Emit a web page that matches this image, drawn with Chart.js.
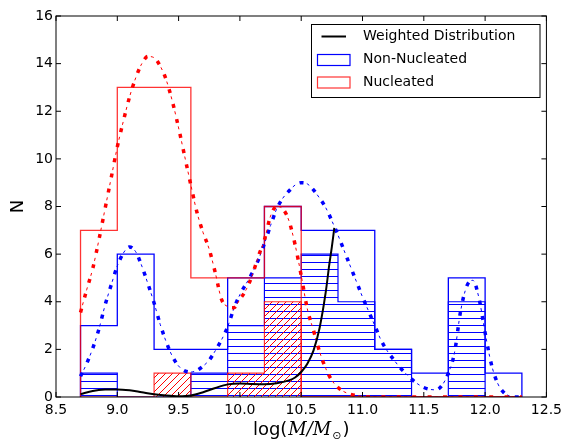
<!DOCTYPE html>
<html>
<head>
<meta charset="utf-8">
<script src="https://cdn.jsdelivr.net/npm/chart.js@4/dist/chart.umd.min.js"></script>
<style>
html,body{margin:0;padding:0;background:#fff;}
#wrap{position:relative;width:567px;height:439px;}
canvas{display:block;}
</style>
</head>
<body>
<div id="wrap"><canvas id="c" width="567" height="439"></canvas></div>
<script>
// ---- data ----
const binEdges = [8.7, 9.0, 9.3, 9.6, 9.9, 10.2, 10.5, 10.8, 11.1, 11.4, 11.7, 12.0, 12.3];
const nonNucleatedCounts = [3, 6, 2, 2, 5, 8, 7, 7, 2, 1, 5, 1];
const nucleatedCounts = [7, 13, 13, 5, 5, 8, 0, 0, 0, 0, 0, 0];
const nonNucleatedHatchCounts = [1, 0, 0, 1, 3, 5, 6, 4, 2, 0, 4, 0];
const nucleatedHatchCounts = [0, 0, 1, 0, 1, 4, 0, 0, 0, 0, 0, 0];

const kdeGrid = [8.70, 8.75, 8.80, 8.85, 8.90, 8.95, 9.00, 9.05, 9.10, 9.15, 9.20, 9.25, 9.30, 9.35, 9.40, 9.45, 9.50, 9.55, 9.60, 9.65, 9.70, 9.75, 9.80, 9.85, 9.90, 9.95, 10.00, 10.05, 10.10, 10.15, 10.20, 10.25, 10.30, 10.35, 10.40, 10.45, 10.50, 10.55, 10.60, 10.65, 10.70, 10.75, 10.80, 10.85, 10.90, 10.95, 11.00, 11.05, 11.10, 11.15, 11.20, 11.25, 11.30, 11.35, 11.40, 11.45, 11.50, 11.55, 11.60, 11.65, 11.70, 11.75, 11.80, 11.85, 11.90, 11.95, 12.00, 12.05, 12.10, 12.15, 12.20, 12.25, 12.30];
const nucleatedKde = [3.55, 4.5, 5.4, 6.6, 7.9, 9.2, 10.5, 11.6, 12.6, 13.4, 14.0, 14.3, 14.25, 13.9, 13.3, 12.4, 11.3, 10.1, 8.9, 7.75, 6.9, 6.2, 5.2, 4.1, 3.8, 3.75, 4.1, 4.5, 5.1, 5.9, 6.6, 7.6, 8.0, 7.9, 7.4, 6.4, 5.1, 3.7, 2.8, 1.9, 1.2, 0.7, 0.4, 0.22, 0.12, 0.06, 0.03, 0, 0, 0, 0, 0, 0, 0, 0, 0, 0, 0, 0, 0, 0, 0, 0, 0, 0, 0, 0, 0, 0, 0, 0, 0, 0];
const nonNucleatedKde = [0.87, 1.4, 2.05, 2.85, 3.85, 4.7, 5.5, 6.05, 6.3, 6.1, 5.5, 4.75, 3.95, 3.05, 2.3, 1.7, 1.3, 1.1, 1.05, 1.12, 1.3, 1.55, 1.95, 2.4, 2.95, 3.7, 4.3, 4.75, 5.2, 5.75, 6.45, 7.2, 7.9, 8.35, 8.65, 8.9, 9.0, 8.95, 8.7, 8.35, 7.95, 7.4, 6.8, 6.15, 5.5, 4.85, 4.2, 3.6, 3.0, 2.4, 1.95, 1.6, 1.27, 1.0, 0.75, 0.55, 0.4, 0.32, 0.3, 0.5, 1.0, 1.85, 3.6, 4.65, 4.9, 4.15, 2.7, 1.4, 0.6, 0.2, 0.04, 0, 0];

const weightedX = [8.70, 8.80, 8.90, 9.00, 9.10, 9.20, 9.30, 9.40, 9.50, 9.60, 9.70, 9.80, 9.90, 10.00, 10.10, 10.20, 10.30, 10.40, 10.45, 10.50, 10.55, 10.60, 10.65, 10.70, 10.73, 10.75, 10.77];
const weightedY = [0.12, 0.25, 0.31, 0.32, 0.28, 0.2, 0.12, 0.06, 0.03, 0.06, 0.2, 0.38, 0.53, 0.57, 0.55, 0.54, 0.58, 0.7, 0.82, 1.05, 1.4, 1.95, 2.9, 4.4, 5.6, 6.3, 7.1];

const xTicks = [8.5, 9.0, 9.5, 10.0, 10.5, 11.0, 11.5, 12.0, 12.5];
const yTicks = [0, 2, 4, 6, 8, 10, 12, 14, 16];
const legendLabels = ['Weighted Distribution', 'Non-Nucleated', 'Nucleated'];
const xTitleParts = ['log(', 'M/M', '\u2299', ')'];
const yTitle = 'N';

// ---- helpers ----
function stepPoints(counts) {
  const pts = [{x: binEdges[0], y: 0}];
  counts.forEach((c, i) => pts.push({x: binEdges[i], y: c}));
  pts.push({x: binEdges[binEdges.length - 1], y: 0});
  return pts;
}
function pairs(xs, ys) { return xs.map((x, i) => ({x: x, y: ys[i]})); }

function hPattern(color) {
  const p = document.createElement('canvas'); p.width = 7; p.height = 7;
  const g = p.getContext('2d'); g.fillStyle = color; g.fillRect(0, 3, 7, 1);
  return g.createPattern(p, 'repeat');
}
function dPattern(color) {
  const s = 7;
  const p = document.createElement('canvas'); p.width = s; p.height = s;
  const g = p.getContext('2d');
  g.fillStyle = color;
  for (let i = 0; i < s; i++) g.fillRect(i, s - 1 - i, 1, 1);
  return g.createPattern(p, 'repeat');
}

const BLUE = '#0000ff';
const RED = 'rgba(255,0,0,0.8)';

function dotted(data, color) {
  return [
    {data: data, borderColor: color, borderWidth: 3.5, borderDash: [4, 11.4], pointRadius: 0, fill: false, cubicInterpolationMode: 'monotone'},
    {data: data, borderColor: color, borderWidth: 1, borderDash: [3, 12.4], borderDashOffset: 7.9, pointRadius: 0, fill: false, cubicInterpolationMode: 'monotone'}
  ];
}

const datasets = [
  {data: pairs(weightedX, weightedY), borderColor: '#000', borderWidth: 2, pointRadius: 0, fill: false, cubicInterpolationMode: 'monotone'},
  ...dotted(pairs(kdeGrid, nucleatedKde), '#ff0000'),
  ...dotted(pairs(kdeGrid, nonNucleatedKde), '#0000ff'),
  {data: stepPoints(nucleatedCounts), stepped: true, borderColor: RED, borderWidth: 1.3, pointRadius: 0, fill: false},
  {data: stepPoints(nonNucleatedCounts), stepped: true, borderColor: BLUE, borderWidth: 1.3, pointRadius: 0, fill: false},
  {data: stepPoints(nucleatedHatchCounts), stepped: true, borderColor: RED, borderWidth: 1.2, pointRadius: 0, fill: 'origin', backgroundColor: dPattern('#ff0000')},
  {data: stepPoints(nonNucleatedHatchCounts), stepped: true, borderColor: BLUE, borderWidth: 1.2, pointRadius: 0, fill: 'origin', backgroundColor: hPattern('#0000ff')}
];

const frame = {
  id: 'frame',
  afterDatasetsDraw(chart) {
    const {ctx, chartArea: a, scales: {x, y}} = chart;
    ctx.save();
    ctx.strokeStyle = '#000'; ctx.lineWidth = 1;
    ctx.strokeRect(a.left, a.top, a.right - a.left, a.bottom - a.top);
    ctx.beginPath();
    xTicks.forEach(v => {
      const px = x.getPixelForValue(v);
      ctx.moveTo(px, a.bottom); ctx.lineTo(px, a.bottom - 5);
      ctx.moveTo(px, a.top); ctx.lineTo(px, a.top + 5);
    });
    yTicks.forEach(v => {
      const py = y.getPixelForValue(v);
      ctx.moveTo(a.left, py); ctx.lineTo(a.left + 5, py);
      ctx.moveTo(a.right, py); ctx.lineTo(a.right - 5, py);
    });
    ctx.stroke();
    ctx.restore();
  },
  afterDraw(chart) {
    const {ctx, chartArea: a} = chart;
    ctx.save();
    // legend
    ctx.fillStyle = '#fff'; ctx.fillRect(311.5, 24.5, 228.5, 73);
    ctx.strokeStyle = '#000'; ctx.lineWidth = 1; ctx.strokeRect(311.5, 24.5, 228.5, 73);
    ctx.strokeStyle = '#000'; ctx.lineWidth = 2;
    ctx.beginPath(); ctx.moveTo(321.5, 36.5); ctx.lineTo(346, 36.5); ctx.stroke();
    ctx.lineWidth = 1.2;
    ctx.strokeStyle = BLUE; ctx.strokeRect(317.5, 54.5, 32.5, 11);
    ctx.strokeStyle = RED; ctx.strokeRect(317.5, 77, 32.5, 11);
    ctx.fillStyle = '#000';
    ctx.font = '14px "DejaVu Sans"'; ctx.textBaseline = 'middle'; ctx.textAlign = 'left';
    ctx.fillText(legendLabels[0], 363, 36.8);
    ctx.fillText(legendLabels[1], 363, 59.6);
    ctx.fillText(legendLabels[2], 363, 82.2);
    // x title with math italics
    const fonts = ['18px "DejaVu Sans"', 'italic 18px "DejaVu Serif"', '11px "DejaVu Sans"', '18px "DejaVu Sans"'];
    const dys = [0, 0, 4, 0];
    const gaps = [1, 1, 1, 0];
    let widths = xTitleParts.map((t, i) => { ctx.font = fonts[i]; return ctx.measureText(t).width + gaps[i]; });
    const total = widths.reduce((s, w) => s + w, 0);
    let cx = (a.left + a.right) / 2 - total / 2;
    ctx.textBaseline = 'alphabetic';
    xTitleParts.forEach((t, i) => {
      ctx.font = fonts[i];
      ctx.fillText(t, cx, 435 + dys[i]);
      cx += widths[i];
    });
    ctx.restore();
  }
};

new Chart(document.getElementById('c'), {
  type: 'line',
  data: {datasets: datasets},
  options: {
    responsive: false,
    animation: false,
    devicePixelRatio: 1,
    layout: {padding: {top: 16, right: 19, left: 0, bottom: 0}},
    plugins: {legend: {display: false}, tooltip: {enabled: false}},
    scales: {
      x: {
        type: 'linear', min: 8.5, max: 12.5,
        grid: {display: false, drawTicks: false}, border: {display: false},
        afterBuildTicks: s => { s.ticks = xTicks.map(v => ({value: v})); },
        ticks: {autoSkip: false, maxRotation: 0, padding: 5, color: '#000', font: {size: 14, family: 'DejaVu Sans'}, callback: v => Number(v).toFixed(1)},
        afterFit: s => { s.height = 42; }
      },
      y: {
        type: 'linear', min: 0, max: 16,
        grid: {display: false, drawTicks: false}, border: {display: false},
        afterBuildTicks: s => { s.ticks = yTicks.map(v => ({value: v})); },
        ticks: {padding: 3, color: '#000', font: {size: 14, family: 'DejaVu Sans'}},
        title: {display: true, text: yTitle, color: '#000', font: {size: 18, family: 'DejaVu Sans'}, padding: {top: 8, bottom: 0}},
        afterFit: s => { s.width = 56; }
      }
    }
  },
  plugins: [frame]
});
</script>
</body>
</html>
